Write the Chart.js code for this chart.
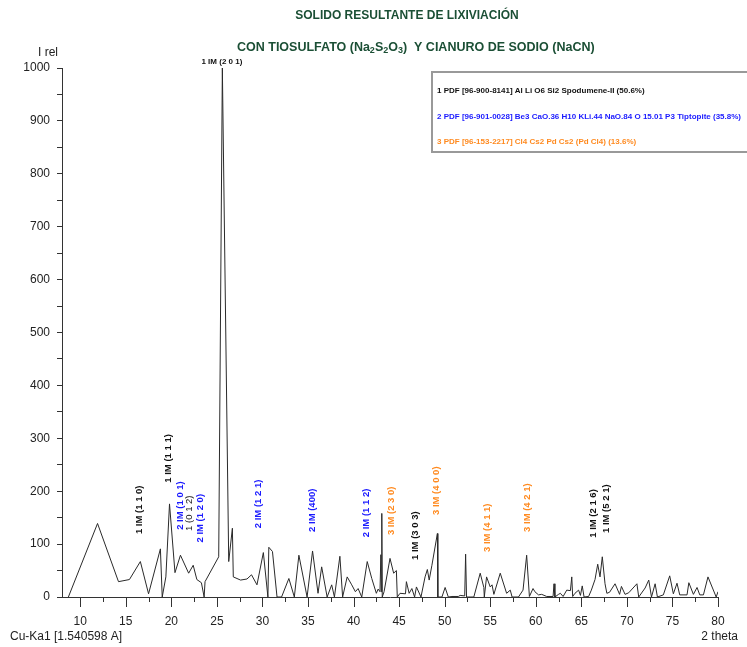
<!DOCTYPE html>
<html>
<head>
<meta charset="utf-8">
<script src="https://cdn.jsdelivr.net/npm/chart.js@4/dist/chart.umd.min.js"></script>
<style>
  body { margin: 0; background: #fff; }
  #wrap { width: 747px; height: 647px; }
</style>
</head>
<body>
<div id="wrap"><canvas id="xrd" width="747" height="647"></canvas></div>
<script>
// diffractogram
const twoTheta = [8.7, 11.9, 14.2, 15.4, 16.6, 17.5, 18.8, 19.0, 19.4, 19.8, 20.4, 21.0, 21.9, 22.4, 22.8, 23.3, 23.6, 23.7,
  25.2, 25.6, 26.3, 26.7, 26.8, 27.6, 28.3, 28.8, 29.4, 30.1, 30.6, 30.7, 31.1, 31.6, 32.1, 32.9, 33.5, 34.0, 34.9,
  35.5, 36.1, 36.5, 37.1, 37.6, 37.9, 38.5, 38.8, 39.3, 39.8, 40.2, 40.5, 40.9, 41.5, 42.0, 42.5, 42.7, 42.9, 43.0,
  43.05, 43.1, 43.15, 43.35, 44.0, 44.4, 44.7, 44.8, 45.1, 45.7, 45.8, 46.1, 46.4, 46.7, 46.9, 47.4, 47.85, 48.1,
  48.3, 48.6, 49.2, 49.25, 49.7, 50.05, 50.4, 50.8, 51.5, 51.7, 52.2, 52.3, 52.4, 52.8, 53.2, 53.9, 54.3, 54.35,
  54.6, 55.0, 55.2, 55.4, 56.1, 56.8, 57.2, 57.4, 58.1, 58.6, 59.0, 59.3, 59.7, 59.9, 60.3, 60.65, 61.2, 61.9, 62.0,
  62.1, 62.5, 62.7, 63.0, 63.4, 63.8, 63.95, 64.05, 64.3, 64.7, 64.9, 65.1, 65.3, 65.8, 66.1, 66.5, 66.8, 67.05,
  67.3, 67.6, 67.8, 68.1, 68.7, 69.2, 69.4, 69.8, 70.2, 71.1, 71.3, 72.0, 72.4, 72.7, 73.1, 73.35, 74.0, 74.7, 75.1,
  75.5, 75.8, 76.6, 76.8, 77.3, 77.7, 78.0, 78.4, 78.9, 79.8, 80.0];
const intensity = [0, 139, 29, 33, 67, 6, 91, 0, 38, 176, 46, 79, 45, 60, 33, 27, 0, 29,
  76, 1000, 67, 130, 38, 32, 34, 42, 23, 84, 0, 94, 86, 0, 0, 35, 0, 79, 0,
  87, 7, 57, 0, 23, 0, 77, 0, 38, 23, 10, 16, 0, 67, 35, 7, 15, 10, 80,
  10, 158, 0, 10, 73, 45, 50, 0, 7, 6, 29, 7, 16, 0, 19, 0, 38, 52,
  32, 60, 120, 0, 0, 18, 0, 1, 1, 3, 2, 81, 0, 0, 0, 45, 18, 0,
  38, 19, 23, 5, 45, 7, 13, 0, 0, 13, 79, 1, 16, 10, 4, 5, 1, 1, 25,
  0, 5, 7, 1, 13, 12, 38, 1, 7, 13, 3, 21, 0, 1, 13, 33, 62, 38,
  76, 25, 7, 9, 25, 5, 20, 5, 8, 25, 0, 17, 32, 0, 25, 0, 4, 40, 6,
  26, 4, 4, 27, 5, 18, 4, 4, 38, 0, 10];

// peak markers: text, 2theta, intensity at the foot of the text, phase
const peakText = ['1 IM (1 1 0)', '1 IM (1 1 1)', '2 IM (1 0 1)', '1 (0 1 2)', '2 IM (1 2 0)', '2 IM (1 2 1)',
  '2 IM (400)', '2 IM (1 1 2)', '3 IM (2 3 0)', '1 IM (3 0 3)', '3 IM (4 0 0)', '3 IM (4 1 1)', '3 IM (4 2 1)',
  '1 IM (2 1 6)', '1 IM (5 2 1)'];
const peakPos = [16.5, 19.7, 21.0, 22.0, 23.2, 29.6, 35.5, 41.45, 44.2, 46.75, 49.1, 54.7, 59.1, 66.3, 67.8];
const peakBase = [119, 216, 127, 125, 103, 130, 123, 113, 117, 70, 155, 85, 123, 112, 121];
const peakPhase = [1, 1, 2, 1, 2, 2, 2, 2, 3, 1, 3, 3, 3, 1, 1];

const phaseText = [
  '1 PDF [96-900-8141] Al Li O6 Si2 Spodumene-II (50.6%)',
  '2 PDF [96-901-0028] Be3 CaO.36 H10 KLi.44 NaO.84 O 15.01 P3 Tiptopite (35.8%)',
  '3 PDF [96-153-2217] Cl4 Cs2 Pd Cs2 (Pd Cl4) (13.6%)'
];
const phaseColor = ['#111111', '#1a1aff', '#ff8a1f'];

const xTicks = [];
for (let t = 10; t <= 80; t += 2.5) xTicks.push(t);

const FONT = '"Liberation Sans", Arial, sans-serif';

const decor = {
  id: 'decor',
  afterDraw(chart) {
    const ctx = chart.ctx;
    const xs = chart.scales.x, ys = chart.scales.y;
    const area = chart.chartArea;
    ctx.save();

    // x tick marks, long at multiples of 5
    ctx.strokeStyle = '#333';
    ctx.lineWidth = 1;
    xTicks.forEach(t => {
      const px = Math.round(xs.getPixelForValue(t)) + 0.5;
      const len = (t % 5 === 0) ? 10 : 5;
      ctx.beginPath();
      ctx.moveTo(px, area.bottom);
      ctx.lineTo(px, area.bottom + len);
      ctx.stroke();
    });

    // titles
    ctx.fillStyle = '#1b4f35';
    ctx.textBaseline = 'middle';
    ctx.textAlign = 'center';
    ctx.font = 'bold 12px ' + FONT;
    ctx.fillText('SOLIDO RESULTANTE DE LIXIVIACIÓN', 407, 16);

    // second line with subscripts
    const parts = [['CON TIOSULFATO (Na', 0], ['2', 1], ['S', 0], ['2', 1], ['O', 0], ['3', 1],
      [')  Y CIANURO DE SODIO (NaCN)', 0]];
    let cx = 237;
    ctx.textAlign = 'left';
    parts.forEach(p => {
      ctx.font = (p[1] ? 'bold 9px ' : 'bold 12.5px ') + FONT;
      ctx.fillText(p[0], cx, p[1] ? 51 : 48);
      cx += ctx.measureText(p[0]).width;
    });

    // axis captions
    ctx.fillStyle = '#222';
    ctx.font = '12px ' + FONT;
    ctx.fillText('I rel', 38, 53);
    ctx.fillText('Cu-Ka1 [1.540598 A]', 10, 637);
    ctx.textAlign = 'right';
    ctx.fillText('2 theta', 738, 637);

    // phase legend
    ctx.fillStyle = '#fff';
    ctx.fillRect(432, 72, 330, 80);
    ctx.strokeStyle = '#999';
    ctx.lineWidth = 2;
    ctx.strokeRect(432, 72, 330, 80);
    ctx.textAlign = 'left';
    ctx.font = 'bold 8px ' + FONT;
    phaseText.forEach((s, i) => {
      ctx.fillStyle = phaseColor[i];
      ctx.fillText(s, 437, 91 + i * 25.5);
    });

    // top peak label
    ctx.fillStyle = '#111';
    ctx.textAlign = 'center';
    ctx.font = 'bold 8px ' + FONT;
    ctx.fillText('1 IM (2 0 1)', xs.getPixelForValue(25.55), area.top - 6);

    // vertical peak labels
    peakText.forEach((s, i) => {
      const px = xs.getPixelForValue(peakPos[i]);
      const py = ys.getPixelForValue(peakBase[i]);
      ctx.save();
      ctx.translate(px, py);
      ctx.rotate(-Math.PI / 2);
      ctx.fillStyle = phaseColor[peakPhase[i] - 1];
      ctx.font = (s.indexOf('IM') < 0 ? '' : 'bold ') + '9.5px ' + FONT;
      ctx.textAlign = 'left';
      ctx.textBaseline = 'middle';
      ctx.fillText(s, 0, 0);
      ctx.restore();
    });

    ctx.restore();
  }
};

const ctx = document.getElementById('xrd').getContext('2d');
new Chart(ctx, {
  type: 'line',
  data: {
    datasets: [{
      data: twoTheta.map((t, i) => ({x: t, y: intensity[i]})),
      borderColor: '#2a2a2a',
      borderWidth: 1,
      pointRadius: 0,
      tension: 0,
      fill: false
    }]
  },
  options: {
    responsive: false,
    animation: false,
    layout: {padding: {left: 0, right: 29, top: 68, bottom: 20}},
    plugins: {legend: {display: false}, tooltip: {enabled: false}},
    scales: {
      x: {
        type: 'linear',
        min: 8,
        max: 80,
        afterBuildTicks: scale => { scale.ticks = xTicks.map(v => ({value: v})); },
        afterFit: scale => { scale.height = 30; },
        grid: {display: true, drawOnChartArea: false, drawTicks: true, tickLength: 10, tickColor: 'rgba(0,0,0,0)'},
        border: {display: true, color: '#333', width: 1},
        ticks: {
          autoSkip: false,
          maxRotation: 0,
          padding: 7,
          color: '#222',
          font: {family: FONT, size: 12},
          callback: v => (v % 5 === 0 ? v : '')
        }
      },
      y: {
        min: 0,
        max: 1000,
        afterFit: scale => { scale.width = 62; },
        grid: {display: true, drawOnChartArea: false, drawTicks: true, tickLength: 5, tickColor: '#333'},
        border: {display: true, color: '#333', width: 1},
        ticks: {
          stepSize: 50,
          padding: 7,
          color: '#222',
          font: {family: FONT, size: 12},
          callback: v => (v % 100 === 0 ? v : '')
        }
      }
    }
  },
  plugins: [decor]
});
</script>
</body>
</html>
